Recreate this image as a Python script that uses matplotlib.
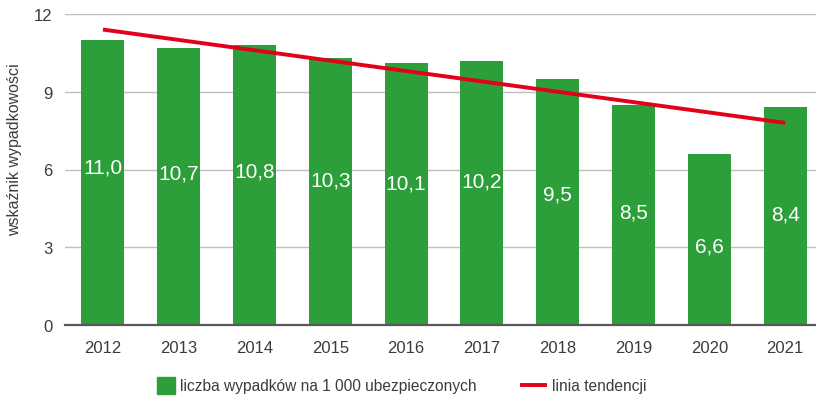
import matplotlib
matplotlib.use("Agg")
import matplotlib.pyplot as plt
from matplotlib.patches import Rectangle
from matplotlib.lines import Line2D

years = ["2012", "2013", "2014", "2015", "2016", "2017", "2018", "2019", "2020", "2021"]
values = [11.0, 10.7, 10.8, 10.3, 10.1, 10.2, 9.5, 8.5, 6.6, 8.4]
trend_x = [0, 9]
trend_y = [11.4, 7.8]
yticks = [0, 3, 6, 9, 12]
bar_label = "liczba wypadków na 1 000 ubezpieczonych"
trend_label = "linia tendencji"
ylabel = "wskaźnik wypadkowości"

GREEN = "#2c9e3a"
RED = "#e2001a"
TXT = "#3c3c3c"

plt.rcParams["font.family"] = ["Liberation Sans", "DejaVu Sans"]

W, H = 816, 402
fig = plt.figure(figsize=(W / 100, H / 100), dpi=100)
ax_left, ax_right = 65, 823
ax_top, ax_bot = 15, 326
ax = fig.add_axes([ax_left / W, 1 - ax_bot / H, (ax_right - ax_left) / W, (ax_bot - ax_top) / H])

x = list(range(len(years)))
ax.bar(x, values, width=0.567, color=GREEN, zorder=2)
ax.plot(trend_x, trend_y, color=RED, lw=2.8, zorder=3, solid_capstyle="butt")

for xi, v in zip(x, values):
    ax.text(xi, v * 0.69 - 1.5, f"{v:.1f}".replace(".", ","), ha="center", va="center",
            color="white", fontsize=15, zorder=4)

ax.set_xlim(-0.5, 9.5)
ax.set_ylim(0, 12)
ax.set_yticks(yticks)
ax.set_yticklabels([str(t) for t in yticks])
ax.set_xticks(x)
ax.set_xticklabels(years)
ax.tick_params(axis="both", length=0, labelsize=12, colors=TXT)
ax.tick_params(axis="y", pad=9)
ax.tick_params(axis="x", pad=11)
ax.grid(axis="y", color="#bfbfbf", lw=1.0, zorder=0)
ax.set_axisbelow(True)
for s in ["top", "right", "left"]:
    ax.spines[s].set_visible(False)
ax.spines["bottom"].set_color("#595959")
ax.spines["bottom"].set_linewidth(1.6)
ax.spines["bottom"].set_zorder(5)

fig.text(15 / W, 1 - 150 / H, ylabel, rotation=90, ha="center", va="center",
         fontsize=11.5, color=TXT)

# legend
fig.patches.append(Rectangle((157 / W, 1 - 395 / H), 18 / W, 17 / H, color=GREEN,
                             transform=fig.transFigure, figure=fig))
fig.text(180 / W, 1 - 387 / H, bar_label, ha="left", va="center", fontsize=11.2, color=TXT)
fig.lines.append(Line2D([522 / W, 545 / W], [1 - 386 / H, 1 - 386 / H], color=RED, lw=2.8,
                        transform=fig.transFigure, figure=fig))
fig.text(552 / W, 1 - 387 / H, trend_label, ha="left", va="center", fontsize=11.2, color=TXT)

fig.savefig("out.png", dpi=100)
